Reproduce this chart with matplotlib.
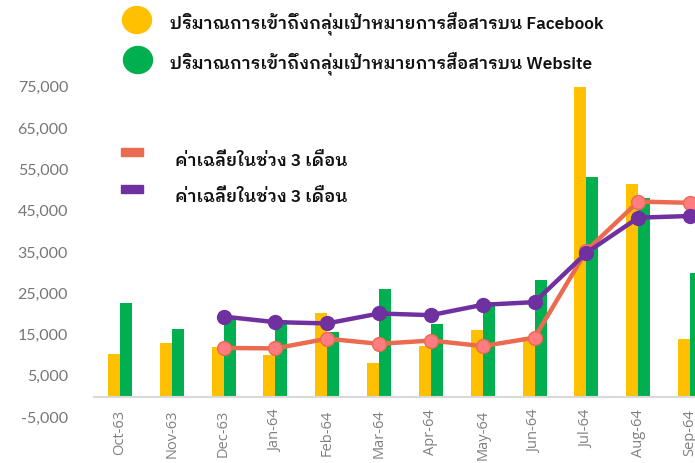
import matplotlib
matplotlib.use("Agg")
import matplotlib.pyplot as plt
from matplotlib.patches import Ellipse, Rectangle
import numpy as np

# ---------------- data ----------------
months = ["Oct-63", "Nov-63", "Dec-63", "Jan-64", "Feb-64", "Mar-64",
          "Apr-64", "May-64", "Jun-64", "Jul-64", "Aug-64", "Sep-64"]
facebook = [10300, 13000, 11900, 10000, 20100, 8150, 12250, 16100, 14400, 74900, 51500, 13850]
website = [22600, 16450, 19000, 18500, 15500, 26000, 17600, 22900, 28200, 53200, 48100, 30000]
avg_facebook = [None, None, 11750, 11650, 14000, 12750, 13550, 12200, 14250, 35300, 47200, 46900]
avg_website = [None, None, 19350, 18000, 17700, 20100, 19700, 22200, 22850, 34800, 43300, 43700]
legend_labels = ["ปริมาณการเข้าถึงกลุ่มเป้าหมายการสื่อสารบน Facebook",
                 "ปริมาณการเข้าถึงกลุ่มเป้าหมายการสื่อสารบน Website",
                 "ค่าเฉลี่ยในช่วง 3 เดือน",
                 "ค่าเฉลี่ยในช่วง 3 เดือน"]
yticks = list(range(-5000, 75001, 10000))

thai_family = ["IBM Plex Sans Thai Looped", "Noto Sans Thai", "Loma", "DejaVu Sans"]

W, H = 695, 463
fig = plt.figure(figsize=(W / 100, H / 100), dpi=100)
fig.patch.set_facecolor("white")

def fx(px):
    return px / W

def fy(py):
    return 1 - py / H

ax_left, ax_right = 94, 716
ax_top, ax_bot = 86.75, 417.15
ax = fig.add_axes([fx(ax_left), fy(ax_bot), (ax_right - ax_left) / W, (ax_bot - ax_top) / H])

x = np.arange(len(months))
bw = 0.232
yellow = "#FFC000"
green = "#00B050"
orange = "#EB6B50"
pink = "#FF7C80"
purple = "#7030A0"

ax.bar(x - bw / 2, facebook, width=bw, color=yellow, zorder=2)
ax.bar(x + bw / 2, website, width=bw, color=green, zorder=2)

af = np.array([np.nan if v is None else v for v in avg_facebook], dtype=float)
aw = np.array([np.nan if v is None else v for v in avg_website], dtype=float)
ax.plot(x, af, color=orange, lw=3.2, marker="o", ms=10, mfc=pink, mec=orange, mew=1.0, zorder=3)
ax.plot(x, aw, color=purple, lw=3.2, marker="o", ms=10, mfc=purple, mec=purple, mew=1.0, zorder=4)

ax.set_xlim(-0.5, len(months) - 0.5)
ax.set_ylim(-5000, 75000)
ax.set_yticks(yticks)
ax.set_yticklabels([f"{v:,}" for v in yticks], fontsize=11.5, color="#767676", family="Lato")
ax.tick_params(axis="y", length=0, pad=18.7)
for s in ["left", "right", "top"]:
    ax.spines[s].set_visible(False)
ax.spines["bottom"].set_position(("data", 0))
ax.spines["bottom"].set_color("#D9D9D9")
ax.spines["bottom"].set_linewidth(1.5)
ax.set_xticks(x)
ax.set_xticklabels(months, rotation=90, fontsize=10.5, color="#808080", family="Open Sans")
ax.tick_params(axis="x", length=0, pad=9.5)

# ---------------- legends ----------------
fig.add_artist(Ellipse((fx(137), fy(20)), fx(29), 27 / H, transform=fig.transFigure, color=yellow))
fig.add_artist(Ellipse((fx(138), fy(60)), fx(29), 27 / H, transform=fig.transFigure, color=green))
tkw = dict(family=thai_family, fontsize=12.4, weight="semibold", va="center", ha="left", color="#111111")
fig.text(fx(170), fy(23.5), legend_labels[0], **tkw)
fig.text(fx(170), fy(63.5), legend_labels[1], **tkw)
fig.add_artist(Rectangle((fx(121), fy(156)), fx(22), 8 / H, transform=fig.transFigure, color=orange))
fig.add_artist(Rectangle((fx(121), fy(193)), fx(22), 8 / H, transform=fig.transFigure, color=purple))
fig.text(fx(175), fy(161), legend_labels[2], **tkw)
fig.text(fx(175), fy(197), legend_labels[3], **tkw)

fig.savefig("out.png", dpi=100)
